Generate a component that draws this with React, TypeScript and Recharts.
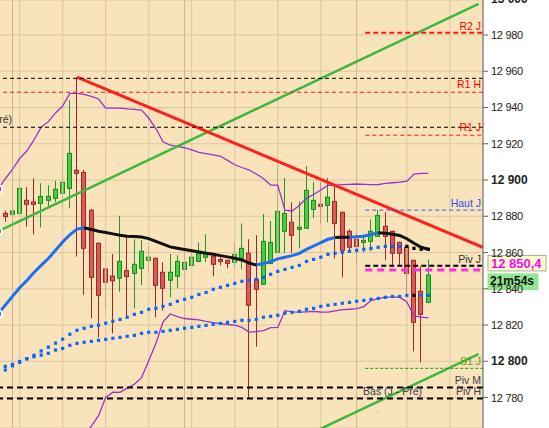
import {
  ComposedChart,
  Bar,
  Line,
  Scatter,
  XAxis,
  YAxis,
  CartesianGrid,
  ReferenceLine,
} from 'recharts'

// bar -1 is the partly hidden candle at the left edge
const FIRST_BAR = -1

const barOpen = [
  12879.2, 12881.6, 12881.1, 12881.6, 12888.8, 12887.9, 12887.1, 12888.8, 12889.9, 12892.7,
  12895.4, 12905.4, 12904.2, 12883.3, 12865.1, 12850.9, 12847.0, 12845.8, 12850.0, 12848.5,
  12851.3, 12855.7, 12856.8, 12849.1, 12844.7, 12846.9, 12850.7, 12852.9, 12855.1, 12857.4,
  12857.9, 12856.2, 12855.7, 12854.6, 12856.8, 12859.6, 12845.2, 12842.5, 12854.0, 12860.1,
  12871.7, 12876.7, 12872.8, 12873.4, 12883.8, 12886.6, 12886.0, 12888.2, 12882.2, 12871.7,
  12867.3, 12865.6, 12866.2, 12868.9, 12874.5, 12871.7, 12865.6, 12862.9, 12855.7, 12838.6,
  12832.5,
]
const barHigh = [
  12883.0, 12883.1, 12894.5, 12902.2, 12896.0, 12900.9, 12898.2, 12897.1, 12899.6, 12909.8,
  12944.1, 12956.7, 12905.5, 12884.0, 12865.6, 12851.4, 12859.2, 12880.3, 12868.4, 12867.3,
  12866.9, 12863.6, 12857.2, 12854.6, 12859.2, 12858.5, 12859.6, 12862.9, 12865.6, 12870.2,
  12858.3, 12857.4, 12856.1, 12865.8, 12876.0, 12867.3, 12869.5, 12881.2, 12877.4, 12908.3,
  12901.1, 12887.7, 12888.2, 12907.7, 12898.9, 12898.9, 12901.1, 12897.1, 12882.6, 12873.0,
  12871.1, 12870.0, 12878.3, 12883.4, 12882.3, 12872.0, 12866.0, 12863.3, 12856.1, 12852.4,
  12856.2,
]
const barLow = [
  12877.0, 12877.0, 12871.5, 12880.1, 12874.2, 12870.0, 12873.9, 12885.3, 12887.9, 12884.4,
  12884.4, 12857.7, 12836.6, 12823.7, 12813.2, 12828.8, 12815.4, 12838.4, 12825.0, 12829.2,
  12842.1, 12849.4, 12824.3, 12827.9, 12835.3, 12840.3, 12847.4, 12852.4, 12854.6, 12854.6,
  12846.9, 12852.9, 12851.3, 12851.8, 12850.7, 12779.6, 12808.0, 12842.0, 12853.5, 12859.6,
  12859.6, 12859.6, 12862.3, 12873.0, 12878.9, 12876.1, 12876.7, 12856.8, 12846.3, 12861.4,
  12854.0, 12860.1, 12860.7, 12868.5, 12855.7, 12852.9, 12852.9, 12837.5, 12805.5, 12799.4,
  12832.0,
]
const barClose = [
  12881.6, 12879.8, 12882.9, 12895.4, 12886.6, 12886.6, 12891.0, 12891.0, 12894.9, 12898.7,
  12914.7, 12903.7, 12862.3, 12846.3, 12836.4, 12843.6, 12844.4, 12855.1, 12846.7, 12853.5,
  12860.7, 12857.4, 12841.9, 12840.3, 12849.1, 12855.1, 12854.6, 12857.4, 12859.6, 12860.1,
  12853.5, 12855.1, 12854.0, 12859.0, 12862.3, 12830.9, 12839.7, 12866.2, 12865.6, 12882.7,
  12881.6, 12869.5, 12873.9, 12894.3, 12888.8, 12885.5, 12890.5, 12876.1, 12861.2, 12862.9,
  12863.4, 12866.7, 12871.7, 12880.5, 12868.9, 12859.6, 12859.6, 12848.5, 12821.5, 12825.9,
  12847.6,
]

// moving average, blue while rising and black while falling
const maValues = [
  12826.1, 12831.0, 12835.8, 12840.6, 12844.6, 12849.0, 12852.9, 12856.7, 12861.2, 12865.8,
  12869.8, 12872.9, 12873.7, 12872.7, 12871.7, 12871.0, 12870.3, 12869.5, 12869.0, 12868.9,
  12868.6, 12867.7, 12866.1, 12864.6, 12863.1, 12862.4, 12861.7, 12861.0, 12860.3, 12859.6,
  12859.0, 12858.3, 12857.6, 12856.8, 12855.9, 12854.2, 12853.1, 12853.9, 12855.0, 12856.5,
  12857.4, 12858.3, 12859.5, 12861.7, 12863.6, 12865.4, 12867.3, 12868.3, 12868.4, 12868.4,
  12868.7, 12869.0, 12869.9, 12870.9, 12870.6, 12870.1, 12869.4, 12867.6, 12865.1, 12862.9,
  12861.8,
]
const maRisingSpans = [[-1, 11], [35, 46], [48, 52]]
const maFallingSpans = [[11, 35], [46, 48], [52, 59]]

const bandUpper = [
  12895.0, 12900.7, 12905.8, 12911.9, 12916.0, 12922.1, 12929.1, 12932.2, 12937.0, 12940.8,
  12947.8, 12947.8, 12947.2, 12946.1, 12944.7, 12939.6, 12939.6, 12939.6, 12939.2, 12939.0,
  12938.6, 12934.2, 12928.4, 12921.1, 12919.3, 12918.5, 12917.8, 12916.6, 12915.3, 12914.6,
  12913.9, 12913.1, 12910.8, 12908.4, 12906.9, 12905.5, 12903.3, 12900.8, 12897.2, 12897.2,
  12883.4, 12882.9, 12885.9, 12889.9, 12892.0, 12894.5, 12897.1, 12897.2, 12897.4, 12897.6,
  12897.8, 12897.6, 12897.4, 12897.5, 12898.1, 12898.5, 12898.8, 12899.4, 12903.3, 12903.7,
  12903.7,
]
const bandLower = [
  null, null, null, null, null, null, null, null, null, null,
  null, null, 12758.8, 12764.3, 12770.0, 12780.1, 12783.0, 12782.9, 12785.2, 12787.3,
  12791.0, 12800.3, 12809.8, 12821.8, 12826.1, 12824.7, 12823.6, 12823.2, 12822.8, 12822.0,
  12821.3, 12820.8, 12820.3, 12819.9, 12818.7, 12816.1, 12816.4, 12816.9, 12818.6, 12818.7,
  12827.9, 12827.3, 12827.1, 12827.3, 12827.5, 12827.2, 12827.1, 12827.8, 12828.5, 12828.7,
  12829.0, 12830.2, 12833.5, 12834.6, 12835.4, 12835.4, 12835.4, 12832.7, 12825.0, 12824.4,
  12823.9,
]

// dotted trailing levels
const trailUpper = [
  null, 12797.2, 12798.3, 12799.9, 12801.4, 12803.3, 12805.7, 12807.8, 12810.0, 12812.2,
  12814.9, 12817.1, 12818.2, 12819.3, 12819.9, 12821.0, 12822.1, 12823.1, 12824.3, 12825.9,
  12827.0, 12828.7, 12829.2, 12830.3, 12831.4, 12833.1, 12834.2, 12835.3, 12836.9, 12838.0,
  12839.7, 12840.8, 12841.9, 12843.0, 12844.1, 12844.7, 12845.2, 12846.3, 12848.0, 12849.6,
  12850.7, 12851.8, 12852.9, 12855.1, 12856.2, 12857.4, 12859.0, 12859.6, 12860.1, 12860.7,
  12861.2, 12861.8, 12862.3, 12862.9, 12863.4, 12863.4, 12863.4, 12863.4, 12862.3, 12861.8,
  12861.8,
]
const trailLower = [
  null, 12795.2, 12797.5, 12799.4, 12801.4, 12802.5, 12803.4, 12804.4, 12806.2, 12807.1,
  12808.8, 12809.9, 12810.5, 12811.0, 12811.6, 12812.1, 12812.7, 12813.2, 12813.8, 12814.3,
  12815.4, 12816.0, 12816.0, 12816.5, 12817.1, 12817.6, 12818.2, 12818.7, 12819.3, 12819.8,
  12820.4, 12820.9, 12821.5, 12822.0, 12822.6, 12822.6, 12823.1, 12824.3, 12824.8, 12825.4,
  12826.5, 12827.0, 12827.6, 12828.7, 12829.2, 12830.3, 12830.9, 12831.4, 12832.0, 12832.5,
  12833.1, 12833.6, 12834.2, 12834.7, 12835.3, 12835.8, 12835.8, 12836.4, 12836.4, 12836.4,
  12836.4,
]
const trailUpperDark = [56, 57, 58, 59]
const trailLowerDark = [57]

const trendRedBars = [10, 66.6]
const trendRedValues = [12956.7, 12862.9]
const trendUpBars = [-1, 66]
const trendUpValues = [12871.7, 12997.2]
const trendLowBars = [42, 66]
const trendLowValues = [12759.1, 12804.0]

const levelNames = ['R2 J', 'R1 H', 'R1 J', 'Haut J', 'Piv J', 'S1 J', 'Piv M', 'Piv H']
const levelValues = [12981.3, 12948.4, 12924.7, 12883.4, 12852.7, 12796.1, 12785.5, 12779.5]
const levelFromBar = [50.2, null, 50.2, 50.2, 50.2, 50.2, null, null]

const prevDayLines = [12956.1, 12929.1]
const prevHighLabel = 'Haut (J - Pré)'
const prevLowLabel = 'Bas (J - Pré)'

const lastPrice = 12850.4
const lastPriceText = '12 850,4'
const countdown = '21m54s'

const priceTicks = [12780, 12800, 12820, 12840, 12860, 12880, 12900, 12920, 12940, 12960, 12980, 13000]
const gridBars = [2, 8, 14, 20, 26, 32, 38, 44, 56, 62]
const sessionBars = [1, 25, 49]

const X_DOMAIN: [number, number] = [-0.739, 66.62]
const Y_DOMAIN: [number, number] = [12763.2, 12999.3]

const FONT = "'Liberation Sans', Arial, Helvetica, sans-serif"

const levelStyle: Record<string, { stroke: string; width: number; dash: string; text: string; dy: number }> = {
  'R2 J': { stroke: '#ff1a1a', width: 2, dash: '5 3', text: '#ff0000', dy: -3 },
  'R1 H': { stroke: '#ff1a1a', width: 1, dash: '4 3', text: '#ff0000', dy: -4 },
  'R1 J': { stroke: '#ff1a1a', width: 1, dash: '4 3', text: '#ff0000', dy: -4 },
  'Haut J': { stroke: '#2f5bff', width: 1, dash: '4 3', text: '#2a4dff', dy: -3 },
  'Piv J': { stroke: '#000000', width: 2, dash: '5 3', text: '#333333', dy: -2.5 },
  'S1 J': { stroke: '#1a9a1a', width: 1, dash: '3 2', text: '#5a9a10', dy: -3.5 },
  'Piv M': { stroke: '#000000', width: 2, dash: '6 4', text: '#3a4050', dy: -3.5 },
  'Piv H': { stroke: '#000000', width: 2, dash: '6 4', text: '#3a4050', dy: -3 },
}

const candles = barOpen.map((open, k) => ({
  i: k + FIRST_BAR,
  open,
  high: barHigh[k],
  low: barLow[k],
  close: barClose[k],
  range: [barLow[k], barHigh[k]],
}))

const points = (values: (number | null)[]) => values.map((v, k) => ({ i: k + FIRST_BAR, v }))
const inSpans = (i: number, spans: number[][]) => spans.some(([a, b]) => i >= a && i <= b)
const pairs = (bars: number[], values: number[]) => bars.map((i, k) => ({ i, v: values[k] }))

const maRising = points(maValues).map((p) => ({ i: p.i, v: inSpans(p.i, maRisingSpans) ? p.v : null }))
const maFalling = points(maValues).map((p) => ({ i: p.i, v: inSpans(p.i, maFallingSpans) ? p.v : null }))

const upperDots = points(trailUpper).filter((p) => p.v != null)
const lowerDots = points(trailLower).filter((p) => p.v != null)
const blueDots = [
  ...upperDots.filter((p) => !trailUpperDark.includes(p.i)),
  ...lowerDots.filter((p) => !trailLowerDark.includes(p.i)),
]
const darkDots = [
  ...upperDots.filter((p) => trailUpperDark.includes(p.i)),
  ...lowerDots.filter((p) => trailLowerDark.includes(p.i)),
]

function Candle(props: any) {
  const { x, y, width, height } = props
  const d = props.payload ?? props
  if (x == null || y == null || d == null) return null
  const top0 = Math.min(y, y + height)
  const h = Math.abs(height)
  const up = d.close >= d.open
  const span = d.high - d.low || 1
  const at = (v: number) => top0 + ((d.high - v) / span) * h
  const cx = Math.floor(x + width / 2) + 0.5
  const top = at(Math.max(d.open, d.close))
  const bot = at(Math.min(d.open, d.close))
  const edge = up ? '#178a17' : '#a32626'
  return (
    <g>
      <line x1={cx} x2={cx} y1={top0} y2={top0 + h} stroke={up ? '#1f9a1f' : '#a32626'} strokeWidth={1} />
      <rect
        x={cx - 2}
        y={top}
        width={4}
        height={Math.max(bot - top, 1.5)}
        fill={up ? '#44cc44' : '#d95a5a'}
        stroke={edge}
        strokeWidth={1}
      />
    </g>
  )
}

const square = (color: string) => (p: any) =>
  <rect x={p.cx - 1.6} y={p.cy - 1.6} width={3.2} height={3.2} fill={color} />

function PriceTick(props: any) {
  const { x, y, payload } = props
  const v = payload.value as number
  const bold = v % 100 === 0
  const txt = `${Math.floor(v / 1000)} ${String(v % 1000).padStart(3, '0')}`
  return (
    <text
      x={x + 1}
      y={y + 4}
      textAnchor="start"
      fontFamily={FONT}
      fontSize={bold ? 12 : 11}
      fontWeight={bold ? 'bold' : 'normal'}
      letterSpacing={bold ? 0 : -0.3}
      fill="#222"
    >
      {txt}
    </text>
  )
}

const rightLabel = (text: string, color: string, dy: number) => (p: any) => {
  const vb = p.viewBox
  return (
    <text x={vb.x + vb.width - 2} y={vb.y + dy} textAnchor="end" fill={color} fontSize={10.5} fontFamily={FONT}>
      {text}
    </text>
  )
}

const leftLabel = (text: string, color: string, dx: number, dy: number, anchor: 'start' | 'end') => (p: any) => {
  const vb = p.viewBox
  return (
    <text x={vb.x + dx} y={vb.y + dy} textAnchor={anchor} fill={color} fontSize={10.5} fontFamily={FONT}>
      {text}
    </text>
  )
}

const priceBoxes = (p: any) => {
  const vb = p.viewBox
  const bx = vb.x + vb.width + 5
  const ly = vb.y
  return (
    <g>
      <rect x={bx} y={ly - 14.5} width={58} height={15.5} fill="#ffffc4" stroke="#a8a8a8" strokeWidth={1} />
      <text x={bx + 3} y={ly - 1.5} fill="#ff00ff" fontSize={13} fontWeight="bold" fontFamily={FONT}>
        {lastPriceText}
      </text>
      <rect x={bx} y={ly + 4} width={50} height={15.5} fill="#8fe88f" stroke="#8fe88f" strokeWidth={1} />
      <text x={bx + 2} y={ly + 15.5} fill="#111" fontSize={12} fontWeight="bold" fontFamily={FONT}>
        {countdown}
      </text>
    </g>
  )
}

export default function App() {
  return (
    <div style={{ position: 'absolute', left: 0, top: 0, width: 549, height: 428, background: '#ffffff' }}>
      <ComposedChart width={549} height={428} data={candles} margin={{ top: 0, right: 0, bottom: 0, left: 0 }}>
        <CartesianGrid fill="#f9e3bb" stroke="#dcc7a2" vertical={false} />
        <XAxis dataKey="i" type="number" domain={X_DOMAIN} allowDataOverflow hide />
        <YAxis
          orientation="right"
          width={66}
          type="number"
          domain={Y_DOMAIN}
          allowDataOverflow
          ticks={priceTicks}
          interval={0}
          tickSize={5}
          tickMargin={2}
          axisLine={{ stroke: '#555' }}
          tickLine={{ stroke: '#666' }}
          tick={(p: any) => <PriceTick {...p} />}
        />

        {gridBars.map((b) => (
          <ReferenceLine key={`g${b}`} x={b} stroke="#dcc7a2" strokeWidth={1} ifOverflow="visible" />
        ))}
        {sessionBars.map((b) => (
          <ReferenceLine key={`s${b}`} x={b} stroke="#cdb791" strokeWidth={1} ifOverflow="visible" />
        ))}

        <Bar dataKey="range" barSize={5} shape={(p: any) => <Candle {...p} />} isAnimationActive={false} />

        <Line data={points(bandUpper)} dataKey="v" stroke="#9932cc" strokeWidth={1.3} dot={false} isAnimationActive={false} />
        <Line data={points(bandLower)} dataKey="v" stroke="#9932cc" strokeWidth={1.3} dot={false} isAnimationActive={false} />

        <Line data={maRising} dataKey="v" stroke="#1e6ef0" strokeWidth={3} dot={false} isAnimationActive={false} />
        <Line data={maFalling} dataKey="v" stroke="#111111" strokeWidth={3} dot={false} isAnimationActive={false} />

        <Line data={pairs(trendUpBars, trendUpValues)} dataKey="v" stroke="#3cb83c" strokeWidth={2.5} dot={false} isAnimationActive={false} />
        <Line data={pairs(trendLowBars, trendLowValues)} dataKey="v" stroke="#3cb83c" strokeWidth={2.5} dot={false} isAnimationActive={false} />
        <Line data={pairs(trendRedBars, trendRedValues)} dataKey="v" stroke="#ff1f1f" strokeWidth={3} dot={false} isAnimationActive={false} />

        <Scatter data={blueDots} dataKey="v" shape={square('#0a64ff')} isAnimationActive={false} />
        <Scatter data={darkDots} dataKey="v" shape={square('#000000')} isAnimationActive={false} />

        {prevDayLines.map((v, k) => (
          <ReferenceLine
            key={`pd${k}`}
            y={v}
            stroke="#000"
            strokeWidth={1}
            strokeDasharray="4 3"
            ifOverflow="visible"
            label={k === 1 ? leftLabel(prevHighLabel, '#333', 12, -4, 'end') : undefined}
          />
        ))}

        {levelNames.map((name, k) => {
          const st = levelStyle[name]
          const from = levelFromBar[k]
          const seg =
            from == null
              ? undefined
              : [
                  { x: from, y: levelValues[k] },
                  { x: X_DOMAIN[1], y: levelValues[k] },
                ]
          return (
            <ReferenceLine
              key={name}
              {...(seg ? { segment: seg } : { y: levelValues[k] })}
              stroke={st.stroke}
              strokeWidth={st.width}
              strokeDasharray={st.dash}
              ifOverflow="visible"
              label={rightLabel(name, st.text, st.dy)}
            />
          )
        })}

        <ReferenceLine
          segment={[
            { x: 49.9, y: levelValues[7] },
            { x: X_DOMAIN[1], y: levelValues[7] },
          ]}
          stroke="none"
          ifOverflow="visible"
          label={leftLabel(prevLowLabel, '#3a4050', 0, -3, 'start')}
        />

        <ReferenceLine
          segment={[
            { x: 50.2, y: lastPrice },
            { x: X_DOMAIN[1], y: lastPrice },
          ]}
          stroke="#ff2ee6"
          strokeWidth={3}
          strokeDasharray="7 5"
          ifOverflow="visible"
          label={priceBoxes}
        />
      </ComposedChart>
    </div>
  )
}
